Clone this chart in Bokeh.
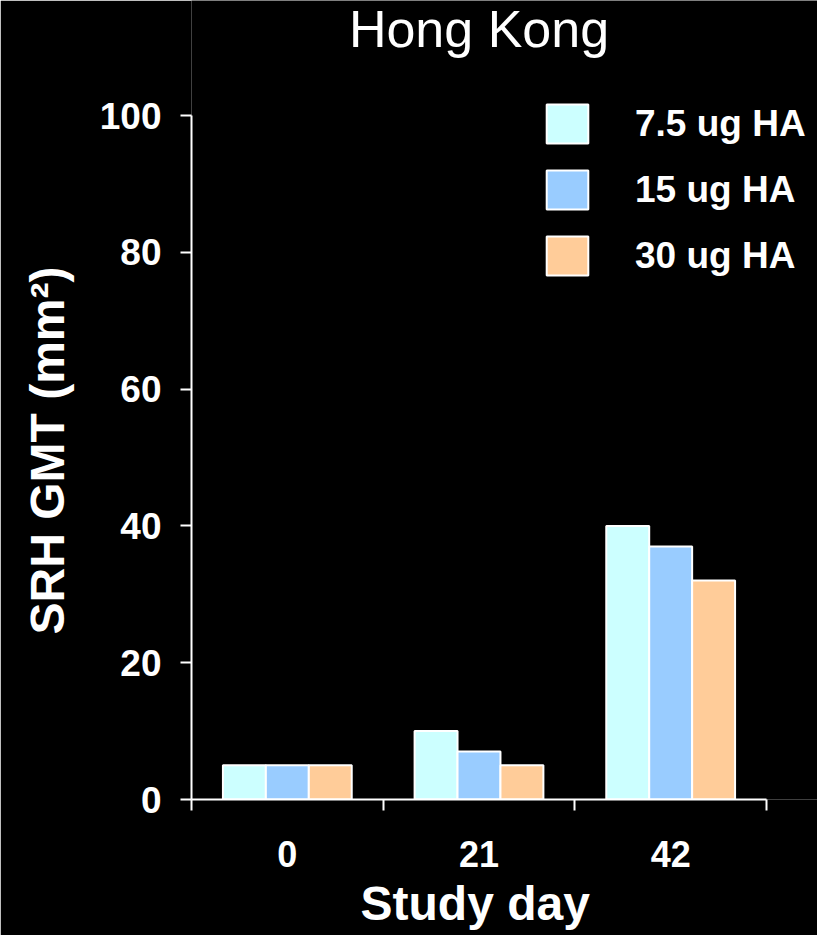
import numpy as np
from bokeh.plotting import figure
from bokeh.models import Range1d, FixedTicker, Legend, LegendItem, Label, Title
from bokeh.embed import file_html
from bokeh.resources import INLINE

# Study days and vaccine dose groups
days = ["0", "21", "42"]
doses = ["7.5 ug HA", "15 ug HA", "30 ug HA"]

# SRH geometric mean titres (mm²) per dose group, by study day
gmt_7_5ug = [5, 10, 40]
gmt_15ug = [5, 7, 37]
gmt_30ug = [5, 5, 32]

y_ticks = [0, 20, 40, 60, 80, 100]
colors = ["#CCFFFF", "#99CCFF", "#FFCC99"]

FONT = "Liberation Sans"

# The frame reaches the top and right edges of the canvas so the title and
# legend can sit inside it; the axes themselves stop at 0..100 and 0..3.
FRAME_W, FRAME_H = 626, 799
AXIS_W, AXIS_H = 575, 684
x_end = len(days) * FRAME_W / AXIS_W
y_end = 100 * FRAME_H / AXIS_H

p = figure(
    width=817, height=935,
    x_range=Range1d(0, x_end), y_range=Range1d(0, y_end),
    output_backend="svg", toolbar_location=None,
    min_border_left=191, min_border_right=0,
    min_border_top=0, min_border_bottom=136,
    background_fill_color="black", border_fill_color="black",
    outline_line_color=None,
)
p.grid.visible = False

# grouped bars: three adjacent bars centred on each study day
bar_w = 0.224
centers = np.arange(len(days)) + 0.5
renderers = []
for i, (vals, col) in enumerate(zip([gmt_7_5ug, gmt_15ug, gmt_30ug], colors)):
    r = p.vbar(x=centers + (i - 1) * bar_w, top=vals, width=bar_w, bottom=0,
               fill_color=col, line_color="white", line_width=2)
    renderers.append(r)

# x axis: labels at the day centres, ticks at the group boundaries
xa = p.xaxis[0]
xa.bounds = (0, len(days))
xa.ticker = FixedTicker(ticks=list(centers), minor_ticks=list(range(len(days) + 1)))
xa.major_label_overrides = {float(c): d for c, d in zip(centers, days)}
xa.major_tick_line_color = None
xa.major_tick_out = 11
xa.major_tick_in = 0
xa.minor_tick_line_color = "white"
xa.minor_tick_line_width = 2
xa.minor_tick_out = 11
xa.minor_tick_in = 0
xa.axis_line_color = "white"
xa.axis_line_width = 2
xa.major_label_text_color = "white"
xa.major_label_text_font = FONT
xa.major_label_text_font_style = "bold"
xa.major_label_text_font_size = "36px"
xa.major_label_standoff = 30

# y axis
ya = p.yaxis[0]
ya.bounds = (0, 100)
ya.ticker = FixedTicker(ticks=y_ticks)
ya.major_tick_line_color = "white"
ya.major_tick_line_width = 2
ya.major_tick_out = 11
ya.major_tick_in = 0
ya.minor_tick_line_color = None
ya.axis_line_color = "white"
ya.axis_line_width = 2
ya.major_label_text_color = "white"
ya.major_label_text_font = FONT
ya.major_label_text_font_style = "bold"
ya.major_label_text_font_size = "37px"
ya.major_label_standoff = 19

# axis titles, placed along the drawn extent of each axis rather than the frame
x_title = Title(text="Study day", align="left", offset=169, standoff=10,
                text_color="white", text_font=FONT, text_font_style="bold",
                text_font_size="48px")
p.add_layout(x_title, "below")

y_title = Title(text="SRH GMT (mm²)", align="left", offset=165, standoff=41,
                vertical_align="top",
                text_color="white", text_font=FONT, text_font_style="bold",
                text_font_size="48px")
p.add_layout(y_title, "left")

# legend in the upper right
legend = Legend(
    items=[LegendItem(label=d, renderers=[r]) for d, r in zip(doses, renderers)],
    location=(350, 519),
    glyph_width=52, glyph_height=49, label_height=49,
    label_standoff=42, spacing=17, padding=0, margin=0,
    label_text_color="white", label_text_font=FONT,
    label_text_font_style="bold", label_text_font_size="37px",
    border_line_color=None, background_fill_alpha=0,
)
p.add_layout(legend)

# chart title, centred over the three study days
title = Label(x=len(days) / 2, y=112.7, text="Hong Kong", text_align="center",
              text_baseline="alphabetic", text_color="white",
              text_font=FONT, text_font_size="52px")
p.add_layout(title)

open("out.html", "w").write(file_html(p, INLINE))
